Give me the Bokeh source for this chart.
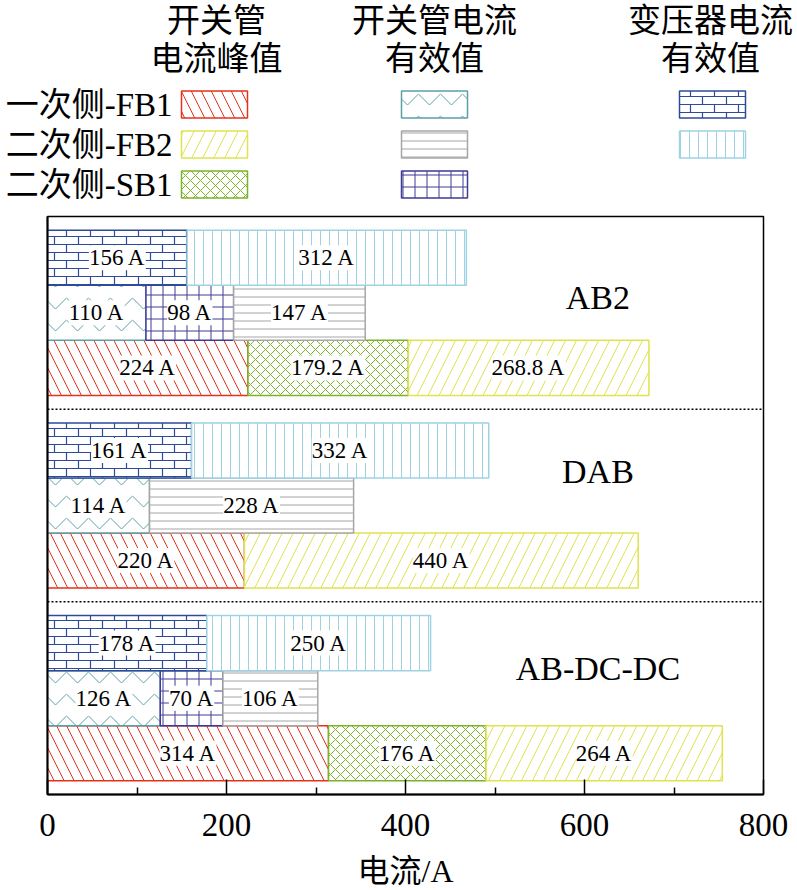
from urllib.parse import quote

from bokeh.plotting import figure
from bokeh.layouts import column
from bokeh.models import (ColumnDataSource, LabelSet, Range1d, Span, FixedTicker,
                          ImageURLTexture)
from bokeh.core.properties import value
from bokeh.embed import file_html
from bokeh.resources import INLINE

FONT = "'Liberation Serif', 'Noto Sans CJK SC'"

# data
groups = ["AB2", "DAB", "AB-DC-DC"]
peak_fb1 = [224, 220, 314]
peak_sb1 = [179.2, 0, 176]
peak_fb2 = [268.8, 440, 264]
sw_fb1 = [110, 114, 126]
sw_sb1 = [98, 0, 70]
sw_fb2 = [147, 228, 106]
tr_fb1 = [156, 161, 178]
tr_fb2 = [312, 332, 250]

row_names = ["一次侧-FB1", "二次侧-FB2", "二次侧-SB1"]
col_titles = [["开关管", "电流峰值"], ["开关管电流", "有效值"], ["变压器电流", "有效值"]]
x_title = "电流/A"
ticks = [0, 200, 400, 600, 800]
minor = [100, 300, 500, 700]

# brick texture for the transformer FB1 bars
brick_svg = ("<svg xmlns='http://www.w3.org/2000/svg' width='24' height='16'>"
             "<path d='M0 0.5H24M0 8.5H24M6.5 0V8M18.5 8V16' stroke='#2e4b99' "
             "stroke-width='1.2' fill='none'/></svg>")
brick = ImageURLTexture(url="data:image/svg+xml;charset=utf-8," + quote(brick_svg))

styles = {
    "pk_fb1": dict(color="#e3321e", hatch="left_diagonal_line", scale=20),
    "pk_fb2": dict(color="#dfe34f", hatch="right_diagonal_line", scale=22),
    "pk_sb1": dict(color="#7db22a", hatch="diagonal_cross", scale=10),
    "sw_fb1": dict(color="#5e9fa5", hatch="horizontal_wave", scale=22),
    "sw_fb2": dict(color="#a6a6a6", hatch="horizontal_line", scale=8),
    "sw_sb1": dict(color="#3e3b96", hatch="cross", scale=12),
    "tr_fb1": dict(color="#2e4b99", hatch="brick", scale=12),
    "tr_fb2": dict(color="#9fd3e3", hatch="vertical_line", scale=9),
}


def hatch_kw(key):
    s = styles[key]
    return dict(fill_color="white", line_color=s["color"], line_width=1.5,
                hatch_pattern=value(s["hatch"]), hatch_color=s["color"],
                hatch_scale=s["scale"], hatch_weight=1,
                hatch_extra={"brick": brick})


def blank_fig(w, h):
    f = figure(width=w, height=h, x_range=Range1d(0, w), y_range=Range1d(h, 0),
               toolbar_location=None, output_backend="svg", min_border=0,
               x_axis_location=None, y_axis_location=None)
    f.grid.visible = False
    f.outline_line_color = None
    f.frame_align = False
    return f


# main chart
p = figure(width=797, height=644, x_range=Range1d(0, 800), y_range=Range1d(0, 10.5),
           toolbar_location=None, output_backend="svg",
           min_border_left=47, min_border_right=34, min_border_top=12, min_border_bottom=54)
p.frame_align = False
p.grid.visible = False
p.outline_line_color = "black"
p.outline_line_width = 1.5

rows = [
    (0, [(peak_fb1, "pk_fb1"), (peak_sb1, "pk_sb1"), (peak_fb2, "pk_fb2")]),
    (1, [(sw_fb1, "sw_fb1"), (sw_sb1, "sw_sb1"), (sw_fb2, "sw_fb2")]),
    (2, [(tr_fb1, "tr_fb1"), (tr_fb2, "tr_fb2")]),
]

lab = dict(x=[], y=[], text=[])
for offset, series in rows:
    left = [0.0] * len(groups)
    for vals, key in series:
        ys, ls, rs = [], [], []
        for i, v in enumerate(vals):
            if v <= 0:
                continue
            y = 0.75 + 3.5 * (len(groups) - 1 - i) + offset
            ys.append(y)
            ls.append(left[i])
            rs.append(left[i] + v)
            lab["x"].append(left[i] + v / 2)
            lab["y"].append(y)
            lab["text"].append(f"{v:g} A")
            left[i] += v
        src = ColumnDataSource(dict(y=ys, left=ls, right=rs))
        p.hbar(y="y", left="left", right="right", height=1.0, source=src, **hatch_kw(key))

p.add_layout(LabelSet(x="x", y="y", text="text", source=ColumnDataSource(lab),
                      text_align="center", text_baseline="middle",
                      text_font=value(FONT), text_font_size="23px", text_color="black",
                      background_fill_color="white"))

for loc in [3.5, 7.0]:
    p.add_layout(Span(location=loc, dimension="width", line_color="black",
                      line_width=1.5, line_dash="2 2"))

group_y = [9.03, 5.87, 2.29]
p.text(x=[615] * len(groups), y=group_y, text=groups, text_align="center",
       text_baseline="middle", text_font=value(FONT), text_font_size="34px",
       text_color="black")

p.xaxis.ticker = FixedTicker(ticks=ticks, minor_ticks=minor)
p.xaxis.major_label_text_font = FONT
p.xaxis.major_label_text_font_size = "33px"
p.xaxis.major_label_text_color = "black"
p.xaxis.major_label_standoff = 19
p.xaxis.axis_line_width = 2
p.xaxis.major_tick_in = 15
p.xaxis.major_tick_out = 0
p.xaxis.minor_tick_in = 7
p.xaxis.minor_tick_out = 0
p.xaxis.major_tick_line_width = 1.5
p.xaxis.minor_tick_line_width = 1.5

p.yaxis.ticker = FixedTicker(ticks=[])
p.yaxis.axis_line_width = 2
p.yaxis.major_tick_line_color = None
p.yaxis.minor_tick_line_color = None
p.yaxis.major_label_text_font_size = "0px"

# x axis title strip under the chart
xt = blank_fig(797, 41)
xt.text(x=[405], y=[22], text=[x_title], text_align="center", text_baseline="middle",
        text_font=value(FONT), text_font_size="32px", text_color="black")

# legend grid drawn as its own figure (page pixel coordinates)
leg = blank_fig(797, 204)

col_x = [214, 434, 712]
title_x = [216, 434, 710]
row_y = [104, 144, 184]
title_y = [20, 58]
legend_keys = [["pk_fb1", "pk_fb2", "pk_sb1"],
               ["sw_fb1", "sw_fb2", "sw_sb1"],
               ["tr_fb1", "tr_fb2"]]

for c, keys in enumerate(legend_keys):
    for r, key in enumerate(keys):
        leg.rect(x=[col_x[c]], y=[row_y[r]], width=66, height=27, **hatch_kw(key))
    leg.text(x=[title_x[c]] * 2, y=title_y, text=col_titles[c], text_align="center",
             text_baseline="middle", text_font=value(FONT), text_font_size="33px",
             text_color="black")

leg.text(x=[172] * len(row_names), y=row_y, text=row_names, text_align="right",
         text_baseline="middle", text_font=value(FONT), text_font_size="33px",
         text_color="black")

layout = column(leg, p, xt, spacing=0)
open("out.html", "w").write(file_html(layout, INLINE))
